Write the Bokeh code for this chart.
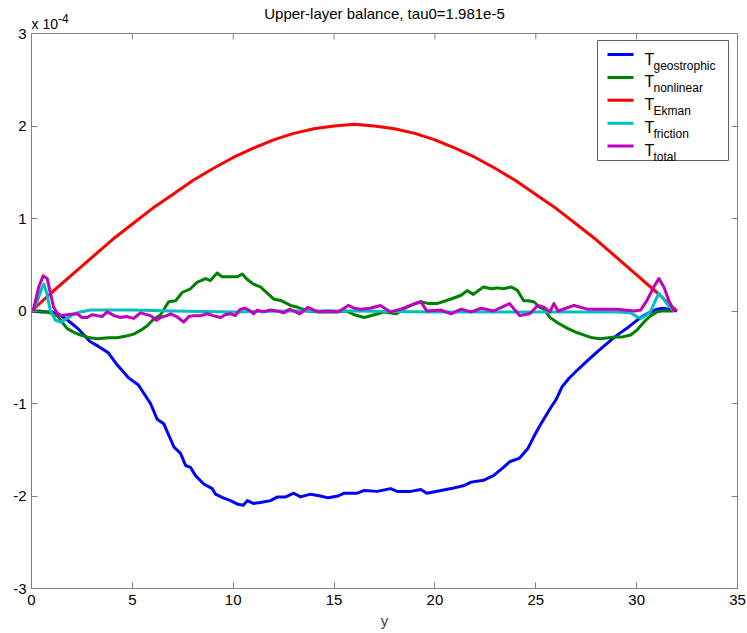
from bokeh.plotting import figure
from bokeh.models import Label, LinearAxis, FixedTicker, CustomJSTickFormatter, Range1d
from bokeh.embed import file_html
from bokeh.resources import INLINE

# ---------------- data (values in units of 1e-4) ----------------
title_text = "Upper-layer balance, tau0=1.981e-5"
x_label = "y"
exp_base = "x 10"
exp_power = "-4"
x_ticks = [0, 5, 10, 15, 20, 25, 30, 35]
y_ticks = [-3, -2, -1, 0, 1, 2, 3]
series_names = ["geostrophic", "nonlinear", "Ekman", "friction", "total"]
series_colors = ["#0000FF", "#008000", "#FF0000", "#00BFBF", "#BF00BF"]

ekman_x = list(range(0, 33))
ekman_y = [0.00, 0.20, 0.39, 0.58, 0.77, 0.94, 1.11, 1.26, 1.41, 1.54, 1.66,
           1.76, 1.85, 1.92, 1.97, 2.00, 2.02, 2.00, 1.97, 1.92, 1.85, 1.76,
           1.66, 1.54, 1.41, 1.26, 1.11, 0.94, 0.77, 0.58, 0.39, 0.20, 0.00]

geo_x = [0, 0.5, 1.0, 1.4, 1.8, 2.3, 2.9, 3.3, 3.8, 4.2, 4.8, 5.3, 5.9, 6.23,
         6.56, 7.06, 7.39, 7.64, 7.88, 8.13, 8.54, 8.96, 9.12, 9.5, 9.87, 10.23,
         10.5, 10.7, 11.0, 11.35, 11.85, 12.2, 12.6, 13.0, 13.34, 13.83, 14.33,
         14.7, 15.2, 15.5, 16.15, 16.5, 17.14, 17.8, 18.13, 18.8, 19.3, 19.6,
         20.3, 20.8, 21.4, 21.8, 22.4, 22.9, 23.4, 23.7, 24.2, 24.6, 24.9, 25.2,
         25.7, 26.0, 26.3, 26.64, 27.1, 27.55, 28.1, 28.7, 29.1, 29.5, 29.9, 30.2,
         30.6, 31.0, 31.3, 31.6, 32.0]
geo_y = [0.00, -0.01, -0.01, -0.04, -0.10, -0.19, -0.33, -0.38, -0.45, -0.57,
         -0.72, -0.80, -1.00, -1.17, -1.22, -1.47, -1.54, -1.67, -1.69, -1.78,
         -1.87, -1.92, -1.98, -2.02, -2.05, -2.09, -2.10, -2.05, -2.08, -2.07,
         -2.05, -2.01, -2.01, -1.97, -2.01, -1.98, -2.00, -2.02, -2.00, -1.97,
         -1.97, -1.94, -1.95, -1.92, -1.95, -1.95, -1.93, -1.97, -1.94, -1.92,
         -1.89, -1.85, -1.83, -1.78, -1.69, -1.63, -1.59, -1.49, -1.36, -1.24,
         -1.06, -0.96, -0.82, -0.73, -0.63, -0.54, -0.43, -0.32, -0.25, -0.19,
         -0.12, -0.07, -0.02, 0.02, 0.03, 0.02, 0.00]

nl_x = [0, 0.4, 0.78, 1.27, 1.77, 2.1, 2.43, 2.9, 3.26, 3.8, 4.25, 4.7, 5.07,
        5.4, 5.74, 6.0, 6.4, 6.8, 7.14, 7.47, 7.88, 8.2, 8.63, 8.87, 9.2, 9.45,
        9.8, 10.2, 10.45, 10.7, 11.0, 11.35, 11.7, 12.0, 12.4, 12.84, 13.2,
        13.67, 14.3, 15.0, 15.6, 16.0, 16.5, 17.0, 17.5, 18.1, 18.6, 19.0, 19.3,
        19.7, 20.1, 20.8, 21.3, 21.6, 21.9, 22.4, 22.8, 23.1, 23.4, 23.8, 24.1,
        24.4, 24.6, 24.9, 25.2, 25.4, 25.7, 26.1, 26.6, 27.0, 27.4, 27.8, 28.2,
        28.6, 28.9, 29.3, 29.7, 30.0, 30.2, 30.45, 30.7, 31.0, 31.2, 31.5, 31.85]
nl_y = [0.00, 0.00, -0.01, -0.05, -0.19, -0.23, -0.26, -0.29, -0.30, -0.29,
        -0.29, -0.27, -0.25, -0.21, -0.16, -0.10, -0.04, 0.10, 0.11, 0.20, 0.24,
        0.31, 0.35, 0.33, 0.41, 0.37, 0.37, 0.37, 0.40, 0.34, 0.29, 0.26, 0.19,
        0.13, 0.11, 0.06, 0.04, 0.00, -0.01, -0.01, 0.00, -0.04, -0.07, -0.04,
        -0.01, -0.03, 0.04, 0.08, 0.10, 0.08, 0.08, 0.13, 0.17, 0.22, 0.18, 0.26,
        0.24, 0.25, 0.24, 0.26, 0.22, 0.11, 0.11, 0.10, 0.04, 0.02, -0.07, -0.13,
        -0.19, -0.23, -0.26, -0.29, -0.30, -0.29, -0.28, -0.28, -0.26, -0.21,
        -0.16, -0.10, -0.05, -0.01, 0.00, 0.00, 0.00]

fr_x = [0, 0.2, 0.36, 0.5, 0.61, 0.75, 0.94, 1.19, 1.44, 1.77, 2.1, 2.43, 2.93,
        4.0, 5.0, 7.0, 10.0, 13.0, 16.0, 20.0, 23.25, 26.0, 29.0, 29.7, 30.0,
        30.2, 30.45, 30.7, 30.9, 31.1, 31.3, 31.5, 31.85]
fr_y = [0.00, 0.06, 0.15, 0.24, 0.29, 0.20, 0.00, -0.10, -0.12, -0.08, -0.03,
        -0.01, 0.01, 0.01, 0.01, 0.00, -0.01, 0.00, 0.00, -0.01, -0.01, -0.01,
        -0.01, -0.02, -0.06, -0.08, -0.05, 0.00, 0.10, 0.19, 0.14, 0.08, 0.00]

tot_x = [0, 0.1, 0.36, 0.58, 0.78, 0.94, 1.1, 1.35, 1.77, 2.27, 2.5, 2.76, 3.0,
         3.26, 3.5, 3.75, 4.1, 4.41, 4.7, 5.07, 5.4, 5.9, 6.2, 6.4, 6.7, 6.9,
         7.2, 7.55, 7.8, 8.05, 8.4, 8.7, 9.0, 9.37, 9.6, 9.87, 10.1, 10.36, 10.6,
         10.86, 11.0, 11.2, 11.5, 11.8, 12.2, 12.5, 12.8, 13.3, 13.7, 14.2, 14.7,
         15.2, 15.7, 16.0, 16.3, 16.8, 17.3, 17.8, 18.3, 18.8, 19.3, 19.6, 20.3,
         20.8, 21.3, 21.8, 22.3, 22.9, 23.3, 23.7, 24.2, 24.7, 25.1, 25.4, 25.7,
         25.9, 26.1, 26.5, 26.9, 27.55, 28.2, 29.0, 29.9, 30.2, 30.5, 30.85,
         31.1, 31.35, 31.6, 31.85]
tot_y = [0.00, 0.02, 0.26, 0.38, 0.35, 0.19, 0.04, -0.05, -0.04, -0.03, -0.07,
         -0.07, -0.04, -0.05, -0.06, -0.01, -0.05, -0.07, -0.06, -0.08, -0.02,
         -0.05, -0.10, -0.07, -0.05, -0.03, -0.06, -0.12, -0.06, -0.05, -0.05,
         -0.03, -0.05, -0.07, -0.04, -0.03, -0.05, 0.02, 0.03, 0.00, -0.03, 0.01,
         -0.01, 0.01, 0.00, -0.02, 0.02, -0.03, 0.04, -0.01, 0.00, -0.01, 0.06,
         0.03, 0.02, 0.03, 0.06, -0.01, 0.02, 0.06, 0.10, 0.00, 0.01, -0.03, 0.02,
         -0.01, 0.03, 0.00, 0.04, 0.08, -0.05, -0.03, 0.06, 0.04, -0.01, 0.08,
         0.00, 0.03, 0.06, 0.02, 0.02, 0.02, 0.00, 0.01, 0.11, 0.26, 0.35, 0.26,
         0.11, 0.00]

series = [(geo_x, geo_y), (nl_x, nl_y), (ekman_x, ekman_y), (fr_x, fr_y), (tot_x, tot_y)]

# ---------------- geometry ----------------
FONT = "Liberation Sans"
AXIS_GRAY = "#808080"
W, H = 747, 633
ML, MR, MB = 31, 10, 45          # canvas margins; frame reaches the top edge
AX_TOP = 33                      # pixel row of the axes box top (y = 3)
XR = (0, 35)
YB, YT_AX = -3, 3                # axes-box limits
FW = W - ML - MR
FH = H - MB                      # frame height (frame top = canvas top)
units_per_px = (YT_AX - YB) / (FH - AX_TOP)
YT = YT_AX + AX_TOP * units_per_px   # range top so the box top lands at AX_TOP


def dx(px):
    return XR[0] + (px - ML) / FW * (XR[1] - XR[0])


def dy(py):
    return YT - py * units_per_px


p = figure(width=W, height=H, output_backend="svg", toolbar_location=None,
           x_range=Range1d(*XR), y_range=Range1d(YB, YT),
           min_border_left=ML, min_border_right=MR, min_border_top=0,
           min_border_bottom=MB, background_fill_color="white",
           border_fill_color="white")
p.grid.visible = False
p.outline_line_color = None

plain = CustomJSTickFormatter(code="return String(tick)")


def style_axis(ax, show_labels=True):
    ax.axis_line_color = AXIS_GRAY
    ax.major_tick_line_color = AXIS_GRAY
    ax.major_tick_in = 6
    ax.major_tick_out = 0
    ax.minor_tick_line_color = None
    ax.major_label_text_font = FONT
    ax.major_label_text_font_size = "15px"
    ax.major_label_text_color = "black"
    if show_labels:
        ax.formatter = plain
    else:
        ax.formatter = CustomJSTickFormatter(code="return ''")
        ax.major_label_text_font_size = "1px"
        ax.major_label_standoff = 0


p.xaxis.ticker = FixedTicker(ticks=x_ticks)
p.yaxis.ticker = FixedTicker(ticks=y_ticks)
style_axis(p.xaxis[0])
style_axis(p.yaxis[0])
p.yaxis.bounds = (YB, YT_AX)
p.xaxis.major_label_standoff = 6
p.yaxis.major_label_standoff = 5
p.xaxis.axis_label = x_label
p.xaxis.axis_label_text_font = FONT
p.xaxis.axis_label_text_font_size = "15px"
p.xaxis.axis_label_text_font_style = "normal"
p.xaxis.axis_label_standoff = 4

ax_right = LinearAxis(ticker=FixedTicker(ticks=y_ticks), bounds=(YB, YT_AX))
style_axis(ax_right, show_labels=False)
p.add_layout(ax_right, "right")

# top edge of the axes box, with inward ticks
tick_len = 6 * units_per_px
p.segment(x0=[XR[0]], y0=[YT_AX], x1=[XR[1]], y1=[YT_AX],
          line_color=AXIS_GRAY, line_width=1)
p.segment(x0=x_ticks, y0=[YT_AX] * len(x_ticks), x1=x_ticks,
          y1=[YT_AX - tick_len] * len(x_ticks), line_color=AXIS_GRAY, line_width=1)

for (xs, ys), c in zip(series, series_colors):
    p.line(xs, ys, line_color=c, line_width=3, line_join="round")

# ---------------- title and exponent ----------------
p.add_layout(Label(x=(XR[0] + XR[1]) / 2, y=dy(13), text=title_text,
                   text_font=FONT, text_font_size="15px", text_color="black",
                   text_align="center", text_baseline="alphabetic"))
p.add_layout(Label(x=dx(31), y=dy(23), text=exp_base,
                   text_font=FONT, text_font_size="14px", text_color="black",
                   text_baseline="alphabetic"))
p.add_layout(Label(x=dx(57.5), y=dy(17.5), text=exp_power,
                   text_font=FONT, text_font_size="12px", text_color="black",
                   text_baseline="alphabetic"))

# ---------------- legend (drawn by hand to allow subscripts) ----------------
box_l, box_r, box_t, box_b = 597, 728, 40, 160
p.quad(left=[dx(box_l)], right=[dx(box_r)], top=[dy(box_t)], bottom=[dy(box_b)],
       fill_color="white", line_color="#606060", line_width=1)

row0, row_step = 54, 22.9
for i, (name, c) in enumerate(zip(series_names, series_colors)):
    ly = row0 + i * row_step
    p.line([dx(607), dx(633)], [dy(ly), dy(ly)], line_color=c, line_width=3)
    p.add_layout(Label(x=dx(644), y=dy(ly + 4.5), text="T", text_font=FONT,
                       text_font_size="16px", text_color="black",
                       text_baseline="alphabetic"))
    p.add_layout(Label(x=dx(653), y=dy(ly + 11), text=name, text_font=FONT,
                       text_font_size="12px", text_color="black",
                       text_baseline="alphabetic"))

open("out.html", "w").write(file_html(p, INLINE))
